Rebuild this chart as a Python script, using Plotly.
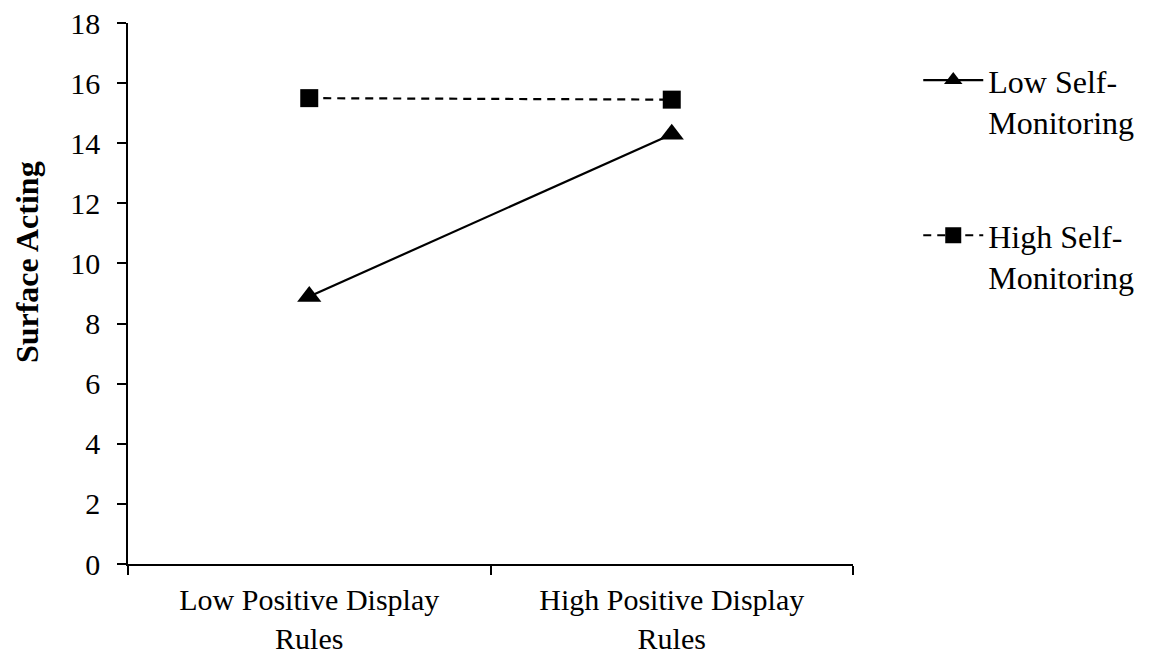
import plotly.graph_objects as go

categories = ["Low Positive Display<br>Rules", "High Positive Display<br>Rules"]
low_self_monitoring = [8.9, 14.3]
high_self_monitoring = [15.5, 15.45]
series_names = ["Low Self-<br>Monitoring", "High Self-<br>Monitoring"]
y_ticks = [0, 2, 4, 6, 8, 10, 12, 14, 16, 18]
y_title = "<b>Surface Acting</b>"

FONT = "Liberation Serif, Times New Roman, serif"
FS = 32

fig = go.Figure()
fig.add_trace(go.Scatter(
    x=categories, y=low_self_monitoring, name=series_names[0],
    mode="lines+markers", legendgroup="a",
    line=dict(color="black", width=2.2),
    marker=dict(symbol="triangle-up", size=21, color="black"),
))
fig.add_trace(go.Scatter(
    x=categories, y=high_self_monitoring, name=series_names[1],
    mode="lines+markers", legendgroup="b",
    line=dict(color="black", width=2.2, dash="8px,6px"),
    marker=dict(symbol="square", size=18, color="black"),
))

fig.add_annotation(
    text=y_title, textangle=-90, xref="paper", yref="paper",
    x=0, xshift=-101, y=0.558, xanchor="center", yanchor="middle",
    showarrow=False, font=dict(family=FONT, size=FS, color="black"),
)

fig.update_layout(
    width=1163, height=654,
    margin=dict(l=120, r=318, t=15, b=98),
    paper_bgcolor="white", plot_bgcolor="white",
    font=dict(family=FONT, size=FS, color="black"),
    showlegend=True,
    legend=dict(
        x=1.09, y=0.945, xanchor="left", yanchor="top",
        font=dict(family=FONT, size=FS, color="black"),
        tracegroupgap=69, itemwidth=60, valign="top",
        bgcolor="rgba(0,0,0,0)",
    ),
    xaxis=dict(
        type="category", range=[-0.5, 1.5],
        tickson="boundaries", ticks="outside", ticklen=9, tickwidth=1.5,
        tickcolor="black", showline=True, linecolor="black", linewidth=1.5,
        showgrid=False, zeroline=False, automargin=False,
        tickfont=dict(family=FONT, size=30), ticklabelstandoff=8,
        ticklabeloverflow="allow",
    ),
    yaxis=dict(
        range=[0, 18], tickvals=y_ticks, ticks="outside", ticklen=9,
        tickwidth=1.5, tickcolor="black", showline=True, linecolor="black",
        linewidth=1.5, showgrid=False, zeroline=False, automargin=False,
        tickfont=dict(family=FONT, size=30), ticklabelstandoff=11,
        ticklabeloverflow="allow",
    ),
)

fig.write_html("out.html")
